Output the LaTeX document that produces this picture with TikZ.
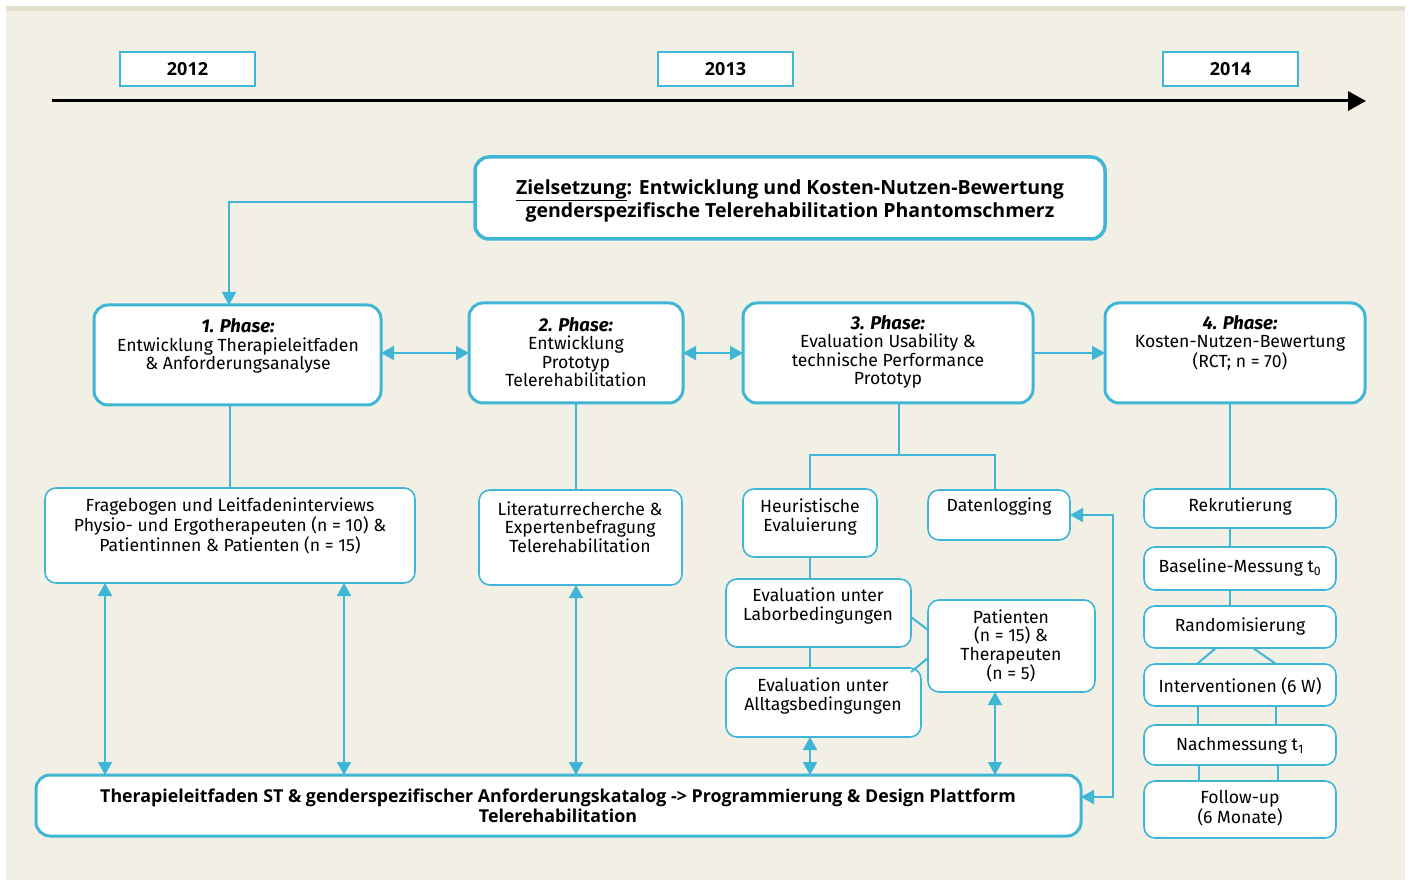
\documentclass[tikz,border=0pt]{standalone}
\usepackage{fontspec}
\setmainfont{Fira Sans}
\newfontfamily\osans{Open Sans}
\usetikzlibrary{arrows.meta,calc}
\definecolor{cy}{RGB}{64,182,214}
\definecolor{bg}{RGB}{242,239,228}
\definecolor{band}{RGB}{228,222,204}
\newcommand\bx[6]{%
 \pgfmathsetmacro\bxw{#4-#2}\pgfmathsetmacro\bxh{#5-#3}%
 \pgfmathsetmacro\bxcx{(#2+#4)/2}\pgfmathsetmacro\bxcy{(#3+#5)/2}%
 \node[#6,minimum width=\bxw pt,minimum height=\bxh pt] (#1) at (\bxcx,\bxcy) {};}
\newcommand\ph[1]{{\fontsize{18.5}{18.5}\selectfont\bfseries\itshape #1}}
\tikzset{
  base/.style={inner sep=0pt,outer sep=0pt,fill=white,draw=cy},
  ybox/.style={base,line width=1.3pt},
  pbox/.style={base,line width=3pt,rounded corners=14pt},
  zbox/.style={base,line width=3.5pt,rounded corners=14pt},
  sbox/.style={base,line width=1.6pt,rounded corners=11pt},
  txt/.style={inner sep=0pt,align=center,font=\fontsize{17.6}{18.5}\selectfont},
  btxt/.style={inner sep=0pt,align=center,font=\osans\bfseries\fontsize{17.8}{20}\selectfont},
  cl/.style={draw=cy,line width=2pt},
  arr/.style={cl,-{Triangle[length=13pt,width=14pt]}},
  darr/.style={cl,{Triangle[length=13pt,width=14pt]}-{Triangle[length=13pt,width=14pt]}},
}
\begin{document}
\begin{tikzpicture}[x=1pt,y=-1pt]
\useasboundingbox (0,0) rectangle (1411,882);
\fill[white] (0,0) rectangle (1411,882);
\fill[bg] (6,6) rectangle (1405,880);
\fill[band] (6,6) rectangle (1405,11);

% timeline
\coordinate (tl0) at (52,101);
\coordinate (tl1) at (1366,101);
\draw[line width=3pt,-{Triangle[length=18pt,width=19pt]}] (tl0) -- (tl1);

% year boxes
\bx{y12}{120}{52}{255}{86}{ybox}
\bx{y13}{658}{52}{793}{86}{ybox}
\bx{y14}{1163}{52}{1298}{86}{ybox}
\node[btxt,font=\osans\bfseries\fontsize{18}{20}\selectfont] (ty12) at (y12) {2012};
\node[btxt,font=\osans\bfseries\fontsize{18}{20}\selectfont] (ty13) at (y13) {2013};
\node[btxt,font=\osans\bfseries\fontsize{18}{20}\selectfont] (ty14) at (y14) {2014};

% boxes
\bx{ziel}{475}{157}{1105}{239}{zbox}
\bx{p1}{94}{305}{381}{405}{pbox}
\bx{p2}{469}{303}{683}{403}{pbox}
\bx{p3}{743}{303}{1033}{403}{pbox}
\bx{p4}{1105}{303}{1365}{403}{pbox}
\bx{frage}{45}{488}{415}{583}{sbox}
\bx{lit}{479}{490}{682}{585}{sbox}
\bx{heur}{743}{489}{877}{557}{sbox}
\bx{dat}{928}{490}{1070}{540}{sbox}
\bx{labor}{726}{579}{911}{647}{sbox}
\bx{alltag}{726}{668}{921}{737}{sbox}
\bx{pat}{928}{600}{1095}{692}{sbox}
\bx{bot}{36}{775}{1081}{836}{pbox}
\bx{rek}{1144}{489}{1336}{528}{sbox}
\bx{base}{1144}{547}{1336}{590}{sbox}
\bx{rand}{1144}{606}{1336}{648}{sbox}
\bx{int}{1144}{664}{1336}{706}{sbox}
\bx{nach}{1144}{725}{1336}{765}{sbox}
\bx{fol}{1144}{781}{1336}{838}{sbox}

% connectors
\coordinate (c1) at (229,202);
\draw[arr] (ziel.west |- c1) -- (c1) -- (c1 |- p1.north);
\draw[darr] (p1.east |- p2.west) -- (p2.west);
\draw[darr] (p2.east) -- (p3.west);
\draw[arr] (p3.east) -- (p4.west);
\draw[cl] (frage.north) -- (frage.north |- p1.south);
\coordinate (c2) at (576,403);
\draw[cl] (c2) -- (c2 |- lit.north);
\coordinate (br) at (899,455);
\draw[cl] (br |- p3.south) -- (br);
\coordinate (brL) at (810,455);
\coordinate (brR) at (995,455);
\draw[cl] (brL |- heur.north) -- (brL) -- (brR) -- (brR |- dat.north);
\draw[cl] (heur.south) -- (heur.south |- labor.north);
\draw[cl] (heur.south |- labor.south) -- (heur.south |- alltag.north);
\coordinate (d1a) at (911,617);
\coordinate (d1b) at (928,630);
\draw[cl] (d1a) -- (d1b);
\coordinate (d2a) at (911,672);
\coordinate (d2b) at (928,658);
\draw[cl] (d2a) -- (d2b);
% double arrows to bottom box
\coordinate (a1) at (105,583);
\coordinate (a2) at (344,583);
\coordinate (a3) at (576,585);
\coordinate (a4) at (810,737);
\coordinate (a5) at (995,692);
\draw[darr] (a1) -- (a1 |- bot.north);
\draw[darr] (a2) -- (a2 |- bot.north);
\draw[darr] (a3) -- (a3 |- bot.north);
\draw[darr] (a4) -- (a4 |- bot.north);
\draw[darr] (a5) -- (a5 |- bot.north);
% loop on the right
\coordinate (lp) at (1113,797);
\draw[darr] (bot.east |- lp) -- (lp) -- (lp |- dat.east) -- (dat.east);
% right column
\coordinate (rc) at (1230,403);
\draw[cl] (rc) -- (rc |- rek.north);
\draw[cl] (rek.south -| rc) -- (base.north -| rc);
\draw[cl] (base.south -| rc) -- (rand.north -| rc);
\draw[cl] ([xshift=-24pt]rand.south) -- ([xshift=-43pt]int.north);
\draw[cl] ([xshift=13pt]rand.south) -- ([xshift=36pt]int.north);
\draw[cl] ([xshift=-42pt]int.south) -- ([xshift=-42pt]nach.north);
\draw[cl] ([xshift=36pt]int.south) -- ([xshift=36pt]nach.north);
\draw[cl] ([xshift=-41pt]nach.south) -- ([xshift=-41pt]fol.north);
\draw[cl] ([xshift=38pt]nach.south) -- ([xshift=38pt]fol.north);

% texts
\node[btxt,font=\osans\bfseries\fontsize{19.5}{23}\selectfont] (tziel) at (790,201) {\underline{Zielsetzung}: Entwicklung und Kosten-Nutzen-Bewertung\\genderspezifische Telerehabilitation Phantomschmerz};
\node[txt] (tp1) at (238,346) {\ph{1. Phase:}\\Entwicklung Therapieleitfaden\\\& Anforderungsanalyse};
\node[txt] (tp2) at (576,352) {\ph{2. Phase:}\\Entwicklung\\Prototyp\\Telerehabilitation};
\node[txt] (tp3) at (888,352) {\ph{3. Phase:}\\Evaluation Usability \&\\technische Performance\\Prototyp};
\node[txt] (tp4) at (1240,343) {\ph{4. Phase:}\\Kosten-Nutzen-Bewertung\\(RCT; n = 70)};
\node[txt] (tfr) at (230,526) {Fragebogen und Leitfadeninterviews\\Physio- und Ergotherapeuten (n = 10) \&\\Patientinnen \& Patienten (n = 15)};
\node[txt] (tli) at (580,527) {Literaturrecherche \&\\Expertenbefragung\\Telerehabilitation};
\node[txt] (the) at (810,517) {Heuristische\\Evaluierung};
\node[txt] (tda) at (999,507) {Datenlogging};
\node[txt] (tla) at (818,606) {Evaluation unter\\Laborbedingungen};
\node[txt] (tal) at (823,696) {Evaluation unter\\Alltagsbedingungen};
\node[txt] (tpa) at (1011,646) {Patienten\\(n = 15) \&\\Therapeuten\\(n = 5)};
\node[btxt] (tbo) at (558,806) {Therapieleitfaden ST \& genderspezifischer Anforderungskatalog -> Programmierung \& Design Plattform\\Telerehabilitation};
\node[txt] (tre) at (1240,507) {Rekrutierung};
\node[txt] (tba) at (1240,568) {Baseline-Messung t\textsubscript{0}};
\node[txt] (tra) at (1240,627) {Randomisierung};
\node[txt] (tin) at (1240,686) {Interventionen (6 W)};
\node[txt] (tna) at (1240,746) {Nachmessung t\textsubscript{1}};
\node[txt] (tfo) at (1240,808) {Follow-up\\(6 Monate)};
\end{tikzpicture}
\end{document}
